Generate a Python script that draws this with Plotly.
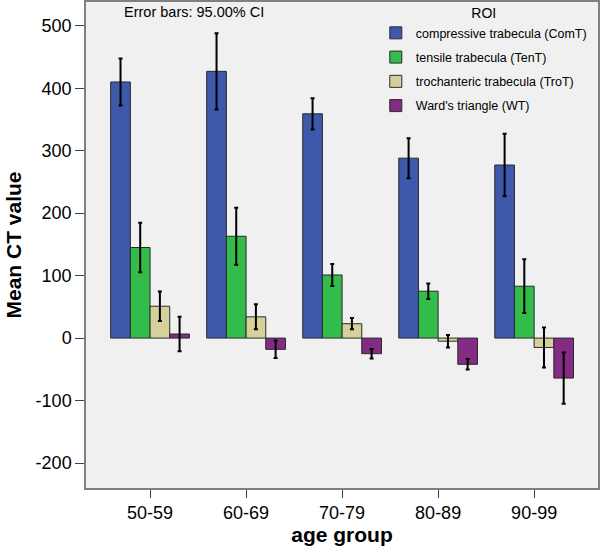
import plotly.graph_objects as go

age_groups = ["50-59", "60-69", "70-79", "80-89", "90-99"]
series_names = ["compressive trabecula (ComT)", "tensile trabecula (TenT)",
                "trochanteric trabecula (TroT)", "Ward's triangle (WT)"]
comt_mean = [410, 427, 359, 288, 277]
comt_ci = [37.5, 61, 25, 32, 50]
tent_mean = [145, 163, 101, 75, 83]
tent_ci = [39.5, 45.5, 17.5, 12.5, 43]
trot_mean = [51, 34, 23, -5, -15]
trot_ci = [23.5, 20, 9, 10, 32]
wt_mean = [6.5, -18, -25, -42, -64]
wt_ci = [27.5, 14, 7.5, 8.5, 41]
y_tick_values = [-200, -100, 0, 100, 200, 300, 400, 500]
y_tick_labels = ["-200", "-100", "0", "100", "200", "300", "400", "500"]
colors = ["#3e58ac", "#31bc4c", "#d6d19a", "#842b84"]

means = [comt_mean, tent_mean, trot_mean, wt_mean]
cis = [comt_ci, tent_ci, trot_ci, wt_ci]

fig = go.Figure()
for i, name in enumerate(series_names):
    fig.add_trace(go.Bar(
        x=age_groups, y=means[i], name=name, legendgroup=f"g{i}",
        marker=dict(color=colors[i], line=dict(color="#2a2a2a", width=1)),
        error_y=dict(type="data", array=cis[i], visible=True,
                     color="black", thickness=2, width=2),
    ))

fig.update_layout(
    width=600, height=551,
    margin=dict(l=86, r=2, t=1, b=63),
    paper_bgcolor="white", plot_bgcolor="#f0f0f0",
    barmode="group", bargap=0.18, bargroupgap=0,
    font=dict(family="Liberation Sans, Arial", color="black"),
    showlegend=True,
    legend=dict(
        x=0.566, y=1.002, xanchor="left", yanchor="top",
        bgcolor="rgba(0,0,0,0)", borderwidth=0,
        font=dict(size=12.5), traceorder="grouped", tracegroupgap=5,
        title=dict(text="ROI", side="top center", font=dict(size=14)),
        itemwidth=30,
    ),
    annotations=[dict(
        text="Error bars: 95.00% CI", x=0.071, y=0.999, xref="paper", yref="paper",
        xanchor="left", yanchor="top", showarrow=False, font=dict(size=14.5),
    )],
)
fig.update_xaxes(
    range=[-0.667, 4.665], showline=True, linecolor="#808080", linewidth=1.5, mirror=True,
    ticks="outside", ticklen=8, tickcolor="#404040",
    tickfont=dict(size=18), automargin=False,
    title=dict(text="<b>age group</b>", font=dict(size=21), standoff=5),
    showgrid=False, zeroline=False,
)
fig.update_yaxes(
    range=[-240, 538], showline=True, linecolor="#808080", linewidth=1.5, mirror=True,
    ticks="outside", ticklen=9, tickcolor="#404040",
    tickvals=y_tick_values, ticktext=y_tick_labels,
    tickfont=dict(size=18), automargin=False,
    title=dict(text="<b>Mean CT value</b>", font=dict(size=21), standoff=8),
    showgrid=False, zeroline=False,
)
fig.write_html("out.html", config={"displayModeBar": False},
               post_script="document.body.style.margin='0';document.body.style.overflow='hidden';")
